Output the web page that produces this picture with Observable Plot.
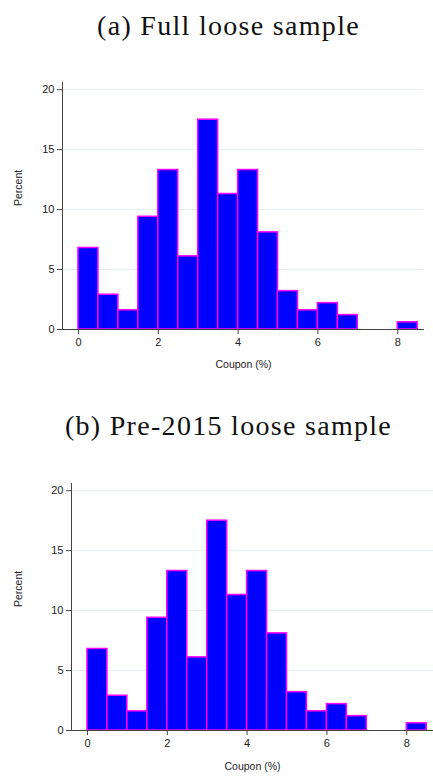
<!DOCTYPE html>
<html>
<head>
<meta charset="utf-8">
<script src="https://cdn.jsdelivr.net/npm/d3@7"></script>
<script src="https://cdn.jsdelivr.net/npm/@observablehq/plot@0.6"></script>
<style>
  html, body { margin: 0; padding: 0; background: #fff; }
  #root { position: relative; width: 433px; height: 776px; overflow: hidden; }
  .title { position: absolute; left: 12px; width: 433px; text-align: center; white-space: nowrap;
           font-family: "Liberation Serif", "DejaVu Serif", serif; font-size: 28px; letter-spacing: 1.3px; color: #111; line-height: 1; }
  .panel { position: absolute; }
</style>
</head>
<body>
<div id="root"></div>
<script>
// Histogram bins (coupon %, bin edges)
const binStart = [0, 0.5, 1, 1.5, 2, 2.5, 3, 3.5, 4, 4.5, 5, 5.5, 6, 6.5, 8];
const binEnd   = [0.5, 1, 1.5, 2, 2.5, 3, 3.5, 4, 4.5, 5, 5.5, 6, 6.5, 7, 8.5];
// Percent per bin
const percentFull    = [6.8, 2.9, 1.6, 9.4, 13.3, 6.1, 17.5, 11.3, 13.3, 8.1, 3.2, 1.6, 2.2, 1.2, 0.6];
const percentPre2015 = [6.8, 2.9, 1.6, 9.4, 13.3, 6.1, 17.5, 11.3, 13.3, 8.1, 3.2, 1.6, 2.2, 1.2, 0.6];
const xTicks = [0, 2, 4, 6, 8];
const yTicks = [0, 5, 10, 15, 20];
const titles = ["(a) Full loose sample", "(b) Pre-2015 loose sample"];
const xLabel = "Coupon (%)";
const yLabel = "Percent";

const xDomain = [-0.4, 8.67];
const yDomain = [0, 20.6];

function makePanel(values, opts) {
  const data = binStart.map((s, i) => ({x1: s, x2: binEnd[i], y: values[i]}));
  return Plot.plot({
    width: 433,
    height: 306,
    marginLeft: opts.ml,
    marginRight: opts.mr,
    marginTop: opts.mt,
    marginBottom: opts.mb,
    style: {fontFamily: "'Liberation Sans', Arial, sans-serif", fontSize: "11px", color: "#222", background: "transparent"},
    x: {domain: xDomain},
    y: {domain: yDomain},
    marks: [
      Plot.gridY(yTicks.filter(d => d > 0), {stroke: "#e4eef0", strokeOpacity: 1, strokeWidth: 1}),
      Plot.rectY(data, {x1: "x1", x2: "x2", y: "y", fill: "#0000ff", stroke: "#ff00ff", strokeWidth: 1.5}),
      Plot.ruleY([0], {stroke: "#444", strokeWidth: 1}),
      Plot.ruleX([xDomain[0]], {stroke: "#444", strokeWidth: 1}),
      Plot.axisY(yTicks, {tickSize: 5, tickPadding: 3, stroke: "#444", label: null, fontSize: 11}),
      Plot.axisX(xTicks, {tickSize: 5, tickPadding: 4, stroke: "#444", label: null, fontSize: 11}),
      Plot.text([yLabel], {frameAnchor: "left", dx: -opts.ml + 18, rotate: -90, fontSize: 10.5, fill: "#222"}),
      Plot.text([xLabel], {frameAnchor: "bottom", dy: opts.xlabDy, fontSize: 10.5, fill: "#222"})
    ]
  });
}

const root = document.getElementById("root");
function addTitle(text, top) {
  const d = document.createElement("div");
  d.className = "title";
  d.style.top = top + "px";
  d.textContent = text;
  root.appendChild(d);
}
function addPanel(svg, top, left) {
  const w = document.createElement("div");
  w.className = "panel";
  w.style.top = top + "px";
  w.style.left = left + "px";
  w.appendChild(svg);
  root.appendChild(w);
}

addTitle(titles[0], 12);
addPanel(makePanel(percentFull, {ml: 62, mr: 9, mt: 12, mb: 47, xlabDy: 38}), 70, 0);
addTitle(titles[1], 412);
addPanel(makePanel(percentPre2015, {ml: 71, mr: 0, mt: 13, mb: 46, xlabDy: 39}), 470, 0);
</script>
</body>
</html>
